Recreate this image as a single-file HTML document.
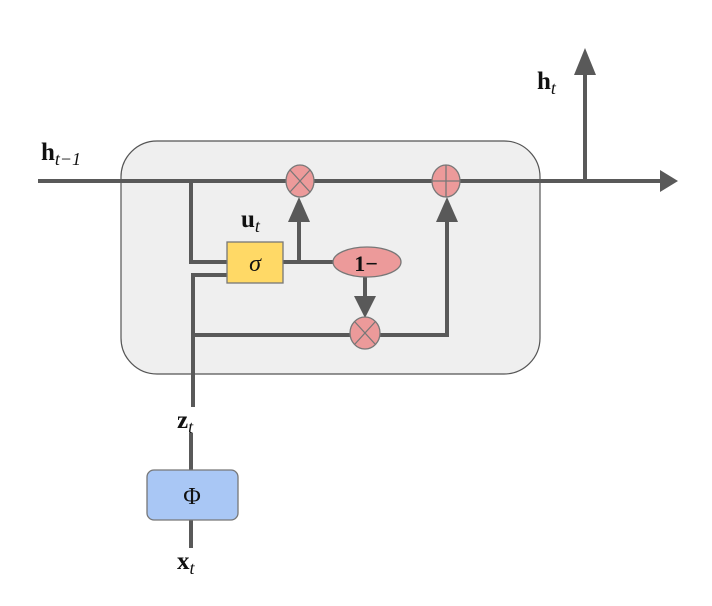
<!DOCTYPE html>
<html><head><style>body{margin:0;background:#fff}svg{display:block}
text{font-family:"Liberation Serif",serif;fill:#111}</style></head><body>
<svg width="712" height="606" viewBox="0 0 712 606" xmlns="http://www.w3.org/2000/svg">
<rect x="121" y="141" width="419" height="233" rx="36" fill="#efefef" stroke="#555" stroke-width="1.2"/>
<g stroke="#595959" stroke-width="4" fill="none">
<line x1="38" y1="181" x2="662" y2="181"/>
<line x1="585" y1="181" x2="585" y2="72"/>
<polyline points="191,181 191,262 227,262"/>
<polyline points="227,275 193,275 193,407"/>
<line x1="193" y1="335" x2="350" y2="335"/>
<polyline points="380,335 447,335 447,222"/>
<line x1="283" y1="262" x2="333" y2="262"/>
<line x1="299" y1="262" x2="299" y2="220"/>
<line x1="365" y1="277" x2="365" y2="298"/>
<line x1="191" y1="433" x2="191" y2="470"/>
<line x1="191" y1="520" x2="191" y2="548"/>
</g>
<g fill="#595959">
<polygon points="660,170 678,181 660,192"/>
<polygon points="574,75 585,48 596,75"/>
<polygon points="288,222 299,197 310,222"/>
<polygon points="436,222 447,197 458,222"/>
<polygon points="354,296 365,318 376,296"/>
</g>
<g stroke="#777" stroke-width="1.3">
<ellipse cx="300" cy="181" rx="14" ry="16" fill="#ec9a9a"/>
<line x1="290" y1="170" x2="310" y2="192"/><line x1="310" y1="170" x2="290" y2="192"/>
<ellipse cx="446" cy="181" rx="14" ry="16" fill="#ec9a9a"/>
<line x1="446" y1="165" x2="446" y2="197"/><line x1="432" y1="181" x2="460" y2="181"/>
<ellipse cx="365" cy="333" rx="15" ry="16" fill="#ec9a9a"/>
<line x1="355" y1="322" x2="375" y2="344"/><line x1="375" y1="322" x2="355" y2="344"/>
<ellipse cx="367" cy="262" rx="34" ry="15" fill="#ec9a9a"/>
<rect x="227" y="242" width="56" height="41" fill="#ffd966" stroke="#777"/>
<rect x="147" y="470" width="91" height="50" rx="7" fill="#a9c7f5" stroke="#777"/>
</g>
<text x="255" y="271" font-size="24" font-style="italic" text-anchor="middle">σ</text>
<text x="366" y="271" font-size="22" font-weight="bold" text-anchor="middle">1−</text>
<text x="192" y="504" font-size="24" text-anchor="middle">Φ</text>
<text x="241" y="227" font-size="25" font-weight="bold">u<tspan font-size="18" font-style="italic" font-weight="normal" dy="5">t</tspan></text>
<text x="41" y="160" font-size="25" font-weight="bold">h<tspan font-size="18" font-style="italic" font-weight="normal" dy="5">t−1</tspan></text>
<text x="537" y="89" font-size="25" font-weight="bold">h<tspan font-size="18" font-style="italic" font-weight="normal" dy="5">t</tspan></text>
<text x="177" y="428" font-size="25" font-weight="bold">z<tspan font-size="18" font-style="italic" font-weight="normal" dy="5">t</tspan></text>
<text x="177" y="569" font-size="25" font-weight="bold">x<tspan font-size="18" font-style="italic" font-weight="normal" dy="5">t</tspan></text>
</svg>
</body></html>
